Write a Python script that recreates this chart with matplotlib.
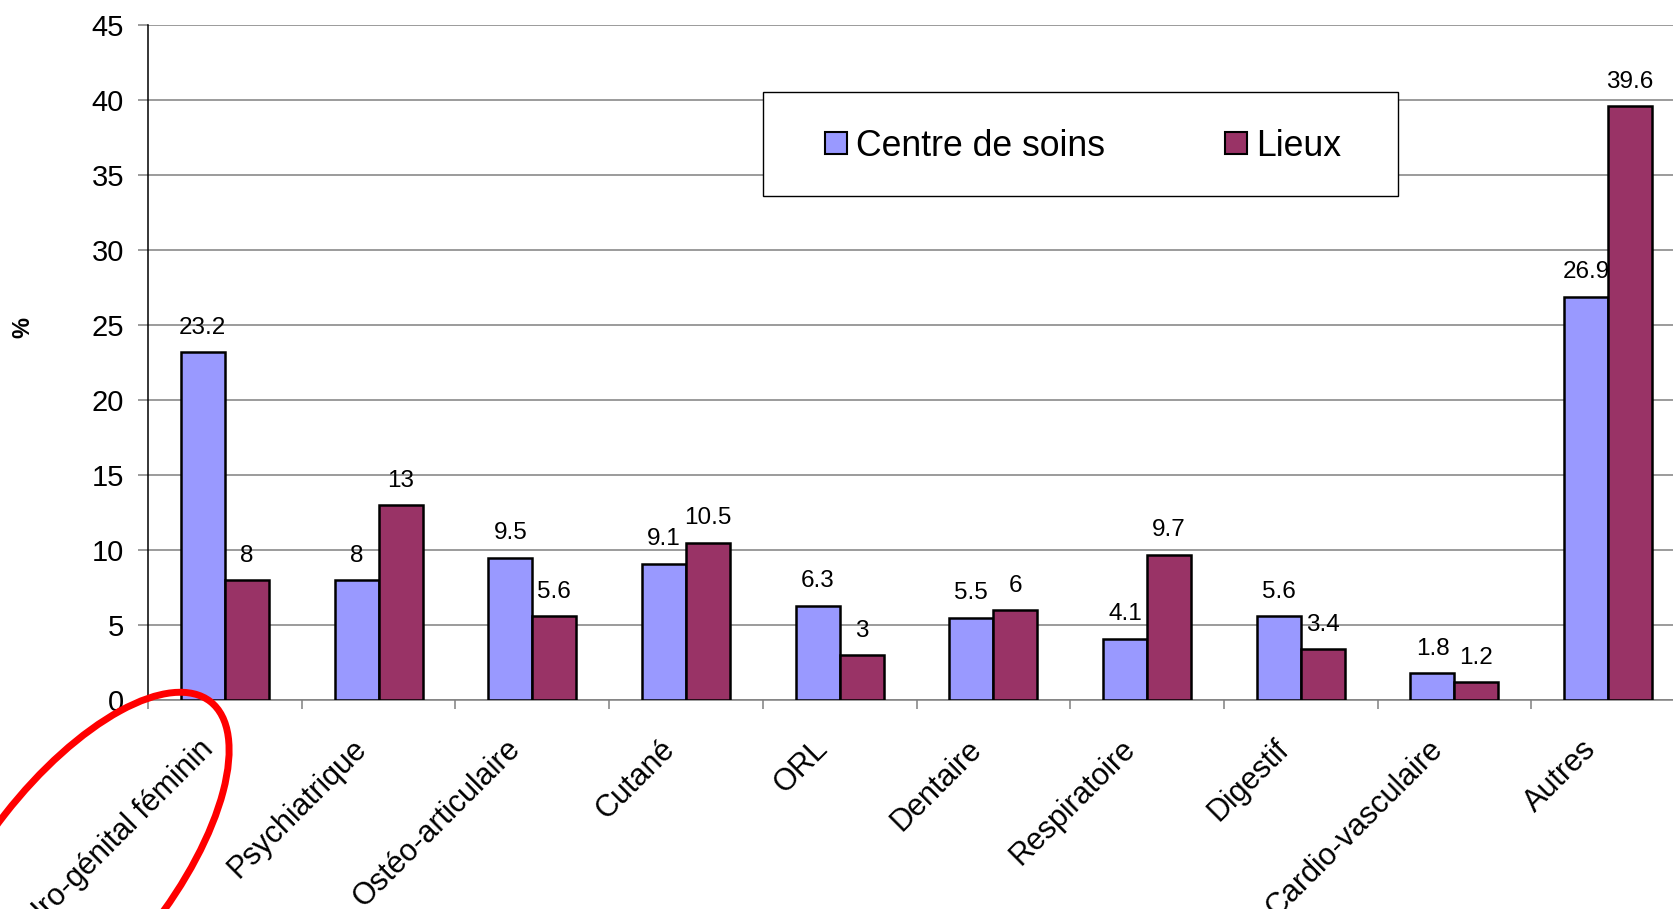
import matplotlib
matplotlib.use("Agg")
import matplotlib.pyplot as plt
import matplotlib.transforms as mtransforms
from matplotlib.patches import Ellipse, Rectangle
from matplotlib.lines import Line2D
import numpy as np

plt.rcParams['font.family'] = ['Liberation Sans', 'DejaVu Sans']

categories = ["Uro-génital féminin", "Psychiatrique", "Ostéo-articulaire", "Cutané", "ORL",
              "Dentaire", "Respiratoire", "Digestif", "Cardio-vasculaire", "Autres"]
centre = [23.2, 8, 9.5, 9.1, 6.3, 5.5, 4.1, 5.6, 1.8, 26.9]
lieux = [8, 13, 5.6, 10.5, 3, 6, 9.7, 3.4, 1.2, 39.6]
series_names = ["Centre de soins", "Lieux"]
yticks = [0, 5, 10, 15, 20, 25, 30, 35, 40, 45]

c_centre = "#9999FF"
c_lieux = "#993366"
grid_c = "#808080"

W, H = 1673, 909
fig = plt.figure(figsize=(W / 100, H / 100), dpi=100)
ax = fig.add_axes([148 / W, (H - 700) / H, 1537 / W, 675 / H])

x = np.arange(len(categories))
bw = 0.286
ax.bar(x - bw / 2, centre, bw, color=c_centre, edgecolor="black", linewidth=1.8, zorder=3)
ax.bar(x + bw / 2, lieux, bw, color=c_lieux, edgecolor="black", linewidth=1.8, zorder=3)

for xi, v in zip(x - bw / 2, centre):
    ax.annotate(f"{v:g}", xy=(xi, v), xytext=(0, 17.5), textcoords="offset points",
                ha="center", va="center", fontsize=17.5, zorder=2.5)
for xi, v in zip(x + bw / 2, lieux):
    ax.annotate(f"{v:g}", xy=(xi, v), xytext=(0, 17.5), textcoords="offset points",
                ha="center", va="center", fontsize=17.5, zorder=2.5)

ax.set_xlim(-0.5, 9.5)
ax.set_ylim(0, 45)
ax.set_yticks(yticks)
ax.set_yticklabels([str(t) for t in yticks], fontsize=21)
ax.yaxis.grid(True, color=grid_c, linewidth=1.1)
ax.set_axisbelow(True)
ax.tick_params(axis="y", length=7.2, width=1.1, color=grid_c, pad=10)

ax.set_xticks(x)
ax.set_xticklabels(categories, fontsize=22, rotation=45, ha="right", va="center",
                   rotation_mode="anchor")
ax.tick_params(axis="x", which="major", length=0, pad=32)
ax.set_xticks(np.arange(-0.5, 10, 1), minor=True)
ax.tick_params(axis="x", which="minor", length=6.5, width=1.1, color=grid_c)
off = mtransforms.ScaledTranslation(-16 / 100, 0, fig.dpi_scale_trans)
for lab in ax.get_xticklabels():
    lab.set_transform(lab.get_transform() + off)

for s in ["top", "right"]:
    ax.spines[s].set_visible(False)
ax.spines["left"].set_color("black")
ax.spines["left"].set_linewidth(1.1)
ax.spines["bottom"].set_color(grid_c)
ax.spines["bottom"].set_linewidth(1.1)

ax.set_ylabel("%", fontsize=17, fontweight="bold")
ax.yaxis.label.set_va("center")
ax.yaxis.set_label_coords((23 - 148) / 1537, (700 - 328) / 675)

# legend frame + legend
box = Rectangle(((763 - 148) / 1537, (700 - 196) / 675), 635 / 1537, 104 / 675,
                transform=ax.transAxes, facecolor="white", edgecolor="black",
                linewidth=1.0, zorder=4)
ax.add_patch(box)
handles = [Line2D([], [], linestyle="none", marker="s", markersize=15.8,
                  markerfacecolor=c, markeredgecolor="black", markeredgewidth=1.5)
           for c in (c_centre, c_lieux)]
leg = ax.legend(handles, series_names, loc="center left",
                bbox_to_anchor=((825 - 148) / 1537, (700 - 146) / 675),
                ncol=2, frameon=False, fontsize=25.7, borderpad=0, borderaxespad=0,
                handlelength=0.62, handletextpad=0.25, columnspacing=3.35)
leg.set_zorder(5)

# red highlight ellipse (annotation drawn on the original picture)
ell = Ellipse((78, H - 871), 430, 185, angle=52, fill=False, edgecolor="#FF0000",
              linewidth=5, transform=mtransforms.IdentityTransform(), zorder=10)
fig.add_artist(ell)

fig.savefig("out.png", dpi=100)
